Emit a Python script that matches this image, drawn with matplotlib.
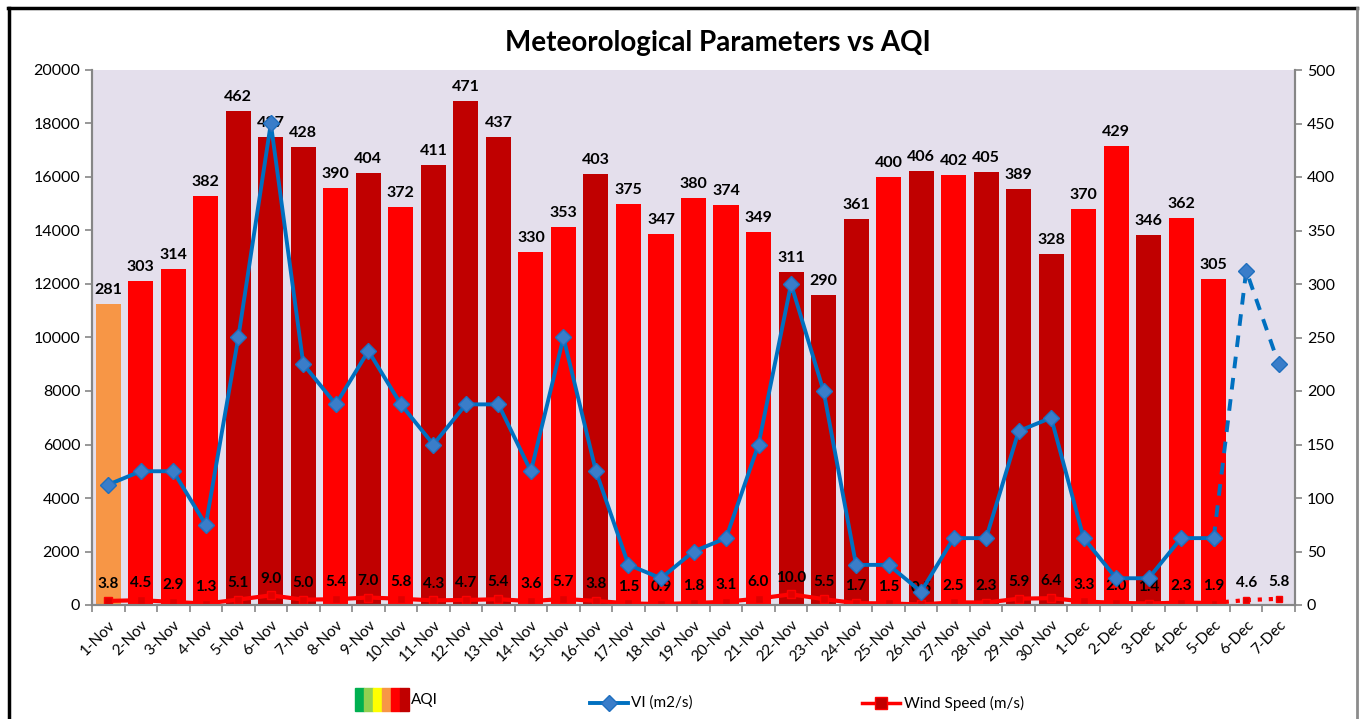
import matplotlib.pyplot as plt
import matplotlib.patches as mpatches
from matplotlib.lines import Line2D
import numpy as np

plt.rcParams['font.family'] = ['Lato', 'DejaVu Sans']

# categories
dates = ['%d-Nov' % d for d in range(1, 31)] + ['%d-Dec' % d for d in range(1, 8)]

# AQI observed 1-Nov .. 5-Dec
aqi = [281, 303, 314, 382, 462, 437, 428, 390, 404, 372, 411, 471, 437, 330, 353,
       403, 375, 347, 380, 374, 349, 311, 290, 361, 400, 406, 402, 405, 389, 328,
       370, 429, 346, 362, 305]

# ventilation index (m2/s), last two are forecast
vi = [4500, 5000, 5000, 3000, 10000, 18000, 9000, 7500, 9500, 7500, 6000, 7500, 7500,
      5000, 10000, 5000, 1500, 1000, 2000, 2500, 6000, 12000, 8000, 1500, 1500, 500,
      2500, 2500, 6500, 7000, 2500, 1000, 1000, 2500, 2500, 12500, 9000]

# wind speed (m/s), last two are forecast
wind = [3.8, 4.5, 2.9, 1.3, 5.1, 9.0, 5.0, 5.4, 7.0, 5.8, 4.3, 4.7, 5.4, 3.6, 5.7,
        3.8, 1.5, 0.9, 1.8, 3.1, 6.0, 10.0, 5.5, 1.7, 1.5, 0.5, 2.5, 2.3, 5.9, 6.4,
        3.3, 2.0, 1.4, 2.3, 1.9, 4.6, 5.8]

O, R, D = '#F79646', '#FF0000', '#C00000'
bar_colors = [O, R, R, R, D, D, D, R, D, R, D, D, D, R, R, D, R, R, R, R, R, D, D, D,
              R, D, R, D, D, D, R, R, D, R, R]

n_obs = len(aqi)
x = np.arange(len(dates))

fig = plt.figure(figsize=(13.64, 7.19), dpi=100)

# outer frame
fig.add_artist(Line2D([8/1364, 1357/1364], [1-8/719, 1-8/719], color='black', lw=2.5))
fig.add_artist(Line2D([9/1364, 9/1364], [0, 1-8/719], color='black', lw=2.5))
fig.add_artist(Line2D([1357/1364, 1357/1364], [0, 1-8/719], color='#8c8c8c', lw=2))

ax = fig.add_axes([92/1364, 1-605/719, (1295-92)/1364, (605-70)/719])
ax.set_facecolor('#E4DFEC')
ax2 = ax.twinx()

# AQI bars (right axis 0-500)
ax.bar(x[:n_obs], aqi, width=0.77, color=bar_colors, zorder=2)
for i, v in enumerate(aqi):
    ax.annotate(str(v), (i, v), xytext=(0, 5), textcoords='offset points',
                ha='center', va='bottom', fontsize=11.5, fontweight='bold', zorder=5)

# wind speed (right axis)
ax.plot(x[:n_obs], wind[:n_obs], color='#FF0000', lw=3, marker='s', ms=6,
        mfc='#E00000', mec='#FF0000', zorder=3)
ax.plot(x[n_obs-1:], wind[n_obs-1:], color='#FF0000', lw=3, ls=':', marker='s', ms=5,
        mfc='#E00000', mec='#FF0000', zorder=3)
for i, w in enumerate(wind):
    ax.annotate('%.1f' % w, (i, w), xytext=(0, 7), textcoords='offset points',
                ha='center', va='bottom', fontsize=11, fontweight='bold', zorder=5)

ax.set_xlim(-0.5, len(dates) - 0.5)
ax.set_ylim(0, 500)
ax.set_yticks(np.arange(0, 501, 50))
ax.yaxis.tick_right()
ax.set_xticks(x)
ax.set_xticklabels(dates, rotation=45, ha='right', rotation_mode='anchor', fontsize=11)
ax.set_xticks(np.arange(-0.5, len(dates), 1), minor=True)
ax.tick_params(axis='x', which='major', length=0, pad=9)
ax.tick_params(axis='x', which='minor', length=5, color='#868686', width=1.2)
ax.tick_params(axis='y', length=5, color='#868686', width=1.2, labelsize=11.5)

# VI (left axis 0-20000)
ax2.plot(x[:n_obs], vi[:n_obs], color='#0070C0', lw=2.8, marker='D', ms=8,
         mfc='#3A7DC9', mec='#1F6FBF', zorder=4)
ax2.plot(x[n_obs-1:], vi[n_obs-1:], color='#0070C0', lw=2.8, ls=(0, (3, 2.5)), marker='D',
         ms=8, mfc='#3A7DC9', mec='#1F6FBF', zorder=4)
ax2.set_ylim(0, 20000)
ax2.set_yticks(np.arange(0, 20001, 2000))
ax2.yaxis.tick_left()
ax2.tick_params(axis='y', length=5, color='#868686', width=1.2, labelsize=11.5)

for a in (ax, ax2):
    a.spines['top'].set_visible(False)
    for s in ('left', 'right', 'bottom'):
        a.spines[s].set_color('#868686')
        a.spines[s].set_linewidth(1.5)

fig.text(718/1364, 1-43/719, 'Meteorological Parameters vs AQI', ha='center', va='center',
         fontsize=20, fontweight='bold')

# legend, drawn by hand
legend_cols = ['#00B050', '#92D050', '#FFFF00', '#F79646', '#FF0000', '#C00000']
for k, c in enumerate(legend_cols):
    fig.add_artist(mpatches.Rectangle(((355 + k*9)/1364, 1-711/719), 9/1364, 23/719,
                                      color=c, transform=fig.transFigure))
fig.text(411/1364, 1-700/719, 'AQI', ha='left', va='center', fontsize=11)
fig.add_artist(Line2D([590/1364, 628/1364], [1-703/719]*2, color='#0070C0', lw=2.8))
fig.add_artist(Line2D([609/1364], [1-703/719], marker='D', ms=8, mfc='#3A7DC9', mec='#1F6FBF'))
fig.text(631/1364, 1-703/719, 'VI (m2/s)', ha='left', va='center', fontsize=11)
fig.add_artist(Line2D([862/1364, 900/1364], [1-703/719]*2, color='#FF0000', lw=2.5))
fig.add_artist(Line2D([881/1364], [1-703/719], marker='s', ms=8, mfc='#C00000', mec='#FF0000'))
fig.text(904/1364, 1-703/719, 'Wind Speed (m/s)', ha='left', va='center', fontsize=11)

fig.savefig('out.png', dpi=100)
